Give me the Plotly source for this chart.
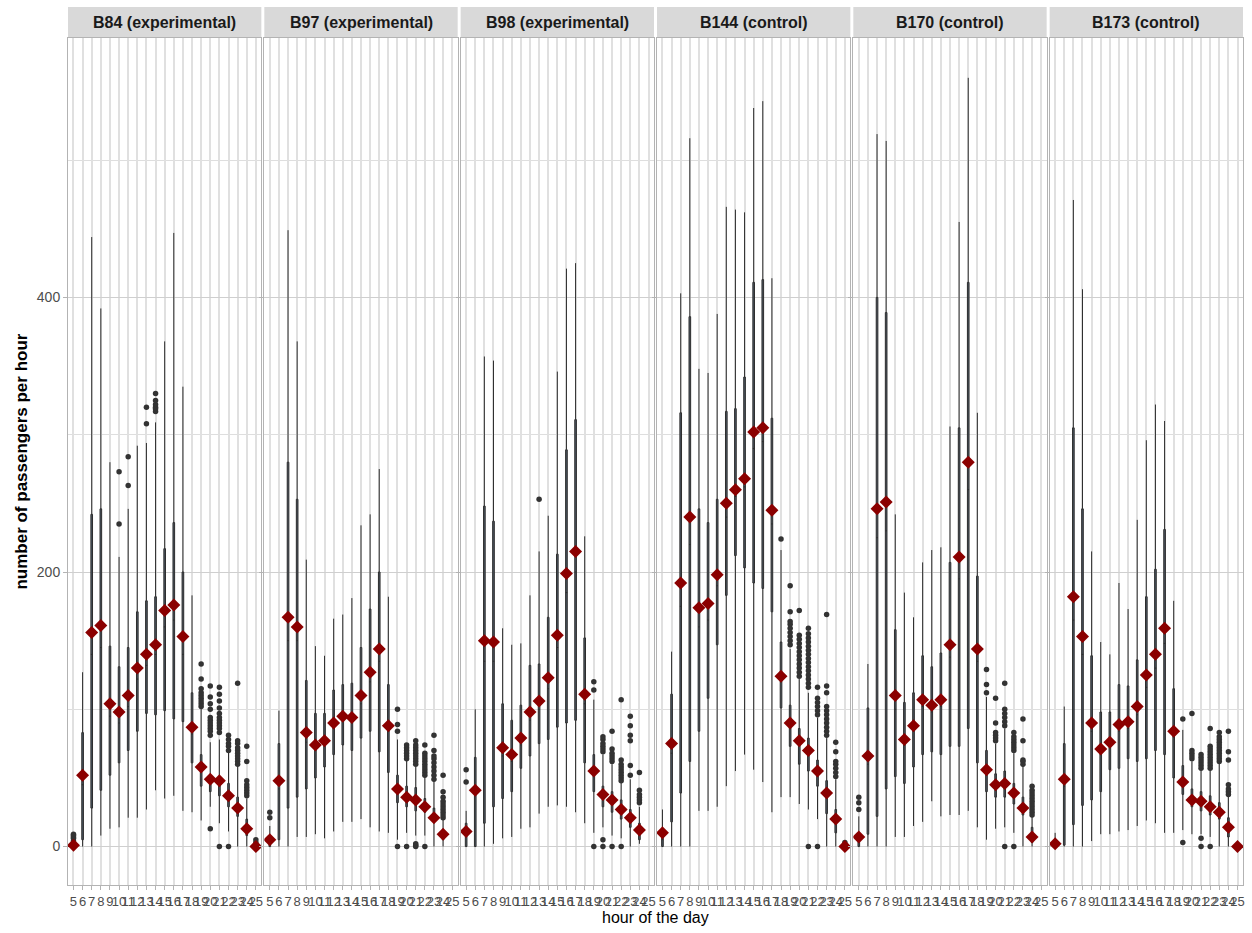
import plotly.graph_objects as go
from plotly.subplots import make_subplots

# Hours of the day shown on each panel
hours = list(range(5, 26))
hour_labels = [str(h) for h in hours]

panel_titles = ["B84 (experimental)", "B97 (experimental)", "B98 (experimental)",
                "B144 (control)", "B170 (control)", "B173 (control)"]

# ---- B84 (experimental) ----
b84_low = [0, 0, 0, 8, 13, 14, 21, 21, 27, 41, 35, 37, 26, 25, 19, 29, 17, 11, 0, 0, 0]
b84_q1 = [0, 5, 28, 41, 52, 61, 70, 84, 97, 96, 99, 93, 91, 61, 44, 40, 37, 29, 22, 8, 0]
b84_med = [0, 45, 140, 145, 95, 90, 102, 122, 132, 140, 160, 165, 140, 82, 55, 46, 44, 35, 27, 12, 0]
b84_q3 = [1, 83, 242, 246, 146, 131, 145, 171, 179, 182, 217, 236, 200, 112, 67, 51, 50, 46, 36, 20, 0]
b84_high = [2, 127, 444, 392, 280, 211, 246, 292, 294, 309, 368, 447, 335, 183, 101, 76, 78, 69, 60, 35, 0]
b84_mean = [1, 52, 156, 161, 104, 98, 110, 130, 140, 147, 172, 176, 153, 87, 58, 49, 48, 37, 28, 13, 0]
b84_out = {5: [4, 6, 7, 8, 9], 10: [235, 273], 11: [263, 284], 13: [308, 320],
           14: [317, 319, 320, 322, 325, 330],
           19: [102, 104, 106, 108, 110, 112, 115, 122, 133],
           20: [13, 81, 84, 86, 88, 90, 92, 94, 100, 104, 109, 117],
           21: [0, 83, 86, 88, 90, 92, 94, 97, 101, 106, 111, 116],
           22: [0, 70, 73, 75, 78, 81],
           23: [60, 62, 64, 66, 68, 70, 72, 75, 77, 119],
           24: [37, 39, 41, 43, 45, 48, 62, 73], 25: [3, 5]}

# ---- B97 (experimental) ----
b97_low = [0, 0, 0, 7, 7, 9, 6, 11, 18, 18, 20, 14, 11, 10, 5, 10, 8, 8, 0, 0, None]
b97_q1 = [0, 5, 28, 36, 42, 50, 58, 67, 74, 70, 79, 84, 69, 54, 32, 29, 26, 25, 18, 5, None]
b97_med = [2, 42, 150, 150, 76, 70, 74, 86, 92, 90, 104, 120, 135, 84, 40, 34, 32, 28, 20, 8, None]
b97_q3 = [6, 75, 280, 253, 121, 97, 97, 114, 118, 119, 145, 173, 200, 118, 52, 44, 43, 35, 28, 12, None]
b97_high = [15, 99, 449, 368, 209, 146, 139, 166, 169, 181, 234, 242, 275, 182, 78, 63, 58, 51, 48, 20, None]
b97_mean = [5, 48, 167, 160, 83, 74, 77, 90, 95, 94, 110, 127, 144, 88, 42, 36, 34, 29, 21, 9, None]
b97_out = {5: [21, 25], 19: [0, 84, 89, 100],
           20: [0, 64, 66, 68, 70, 72, 74],
           21: [0, 1, 2, 60, 62, 64, 66, 68, 70, 72, 74, 77],
           22: [0, 52, 54, 56, 58, 60, 62, 64, 66, 68, 74],
           23: [49, 52, 55, 58, 61, 64, 66, 70, 81],
           24: [21, 23, 25, 27, 29, 31, 33, 36, 40, 52]}

# ---- B98 (experimental) ----
b98_low = [0, 0, 0, 2, 6, 7, 13, 14, 24, 29, 30, 29, 25, 17, 10, 14, 8, 6, 0, 2, None]
b98_q1 = [0, 0, 17, 29, 35, 40, 57, 66, 75, 78, 87, 90, 92, 61, 40, 29, 25, 20, 14, 5, None]
b98_med = [8, 38, 135, 135, 66, 62, 74, 92, 100, 115, 145, 185, 200, 104, 52, 36, 32, 26, 20, 10, None]
b98_q3 = [17, 65, 248, 237, 104, 92, 103, 132, 133, 167, 213, 289, 311, 152, 67, 44, 40, 34, 27, 17, None]
b98_high = [26, 100, 357, 354, 159, 147, 148, 183, 215, 241, 346, 421, 425, 226, 107, 67, 60, 48, 49, 29, None]
b98_mean = [11, 41, 150, 149, 72, 67, 79, 98, 106, 123, 154, 199, 215, 111, 55, 38, 34, 27, 21, 12, None]
b98_out = {5: [47, 56], 13: [253], 19: [0, 114, 120],
           20: [0, 5, 69, 71, 73, 75, 78, 80],
           21: [0, 62, 64, 66, 68, 71, 84],
           22: [0, 48, 50, 52, 54, 56, 58, 60, 63, 107],
           23: [52, 59, 77, 81, 88, 95],
           24: [32, 34, 36, 38, 41, 54]}

# ---- B144 (control) ----
b144_low = [0, 0, 0, 0, 26, 26, 29, 44, 55, 67, 56, 47, 25, 36, 36, 31, 27, 20, 0, 0, 0]
b144_q1 = [0, 18, 39, 62, 84, 108, 147, 183, 212, 203, 192, 188, 171, 101, 73, 60, 55, 44, 24, 10, 0]
b144_med = [5, 68, 175, 220, 160, 165, 190, 240, 255, 262, 290, 295, 235, 120, 86, 74, 67, 52, 36, 18, 0]
b144_q3 = [12, 111, 316, 386, 246, 236, 253, 317, 319, 342, 411, 413, 312, 149, 103, 86, 79, 63, 48, 27, 0]
b144_high = [27, 142, 403, 516, 348, 345, 388, 466, 464, 462, 538, 543, 414, 216, 144, 122, 112, 94, 79, 49, 0]
b144_mean = [10, 75, 192, 240, 174, 177, 198, 250, 260, 268, 302, 305, 245, 124, 90, 77, 70, 55, 39, 20, 0]
b144_out = {18: [224],
            19: [147, 150, 153, 156, 159, 162, 164, 171, 190],
            20: [124, 127, 130, 133, 136, 139, 142, 145, 148, 151, 154, 172],
            21: [0, 116, 119, 122, 125, 128, 131, 134, 137, 140, 143, 146, 149, 152, 155, 159],
            22: [0, 96, 99, 102, 105, 108, 116],
            23: [81, 84, 87, 90, 93, 96, 99, 102, 112, 117, 169],
            24: [51, 54, 57, 60, 62, 69, 76], 25: [3]}

# ---- B170 (control) ----
b170_low = [0, 0, 0, 0, 7, 7, 15, 18, 33, 22, 23, 23, 26, 14, 5, 13, 14, 10, 0, 0, None]
b170_q1 = [0, 9, 22, 42, 51, 46, 58, 67, 69, 67, 73, 73, 86, 61, 40, 36, 36, 31, 23, 3, None]
b170_med = [3, 60, 225, 230, 100, 74, 84, 102, 98, 102, 138, 195, 260, 135, 53, 43, 44, 37, 26, 6, None]
b170_q3 = [10, 101, 400, 389, 158, 105, 112, 139, 131, 141, 207, 305, 411, 197, 70, 53, 55, 46, 36, 14, None]
b170_high = [22, 133, 519, 514, 242, 185, 167, 207, 216, 218, 306, 455, 560, 316, 109, 75, 86, 68, 59, 22, None]
b170_mean = [7, 66, 246, 251, 110, 78, 88, 107, 103, 107, 147, 211, 280, 144, 56, 45, 46, 39, 28, 7, None]
b170_out = {5: [27, 32, 36], 19: [112, 118, 129],
            20: [77, 79, 81, 83, 90, 108],
            21: [0, 88, 91, 94, 97, 100, 119],
            22: [0, 70, 72, 74, 76, 78, 80, 83],
            23: [60, 62, 63, 77, 93],
            24: [23, 25, 27, 29, 31, 33, 35, 37, 39, 41, 44]}

# ---- B173 (control) ----
b173_low = [0, 0, 0, 0, 4, 9, 9, 11, 12, 15, 19, 17, 10, 10, 12, 9, 9, 7, 0, 0, 0]
b173_q1 = [0, 1, 16, 30, 34, 40, 56, 57, 64, 62, 64, 70, 67, 50, 38, 29, 26, 23, 20, 7, 0]
b173_med = [1, 44, 165, 140, 84, 67, 72, 84, 86, 96, 116, 130, 148, 80, 45, 33, 32, 28, 24, 12, 0]
b173_q3 = [3, 75, 305, 246, 139, 98, 98, 118, 117, 136, 182, 202, 231, 115, 59, 42, 40, 37, 32, 21, 0]
b173_high = [10, 102, 471, 406, 215, 149, 140, 192, 173, 238, 296, 322, 310, 179, 85, 62, 56, 56, 61, 37, 0]
b173_mean = [2, 49, 182, 153, 90, 71, 76, 89, 91, 102, 125, 140, 159, 84, 47, 34, 33, 29, 25, 14, 0]
b173_out = {19: [3, 93], 20: [64, 66, 68, 70, 97],
            21: [0, 6, 57, 59, 61, 63, 65, 67],
            22: [0, 57, 59, 61, 63, 65, 67, 69, 71, 73, 86],
            23: [62, 64, 66, 68, 70, 72, 74, 76, 78, 80, 83],
            24: [38, 40, 42, 45, 63, 69, 84]}

panels = [
    (b84_low, b84_q1, b84_med, b84_q3, b84_high, b84_mean, b84_out),
    (b97_low, b97_q1, b97_med, b97_q3, b97_high, b97_mean, b97_out),
    (b98_low, b98_q1, b98_med, b98_q3, b98_high, b98_mean, b98_out),
    (b144_low, b144_q1, b144_med, b144_q3, b144_high, b144_mean, b144_out),
    (b170_low, b170_q1, b170_med, b170_q3, b170_high, b170_mean, b170_out),
    (b173_low, b173_q1, b173_med, b173_q3, b173_high, b173_mean, b173_out),
]

FONT = "Liberation Sans, Arial, sans-serif"
W, H = 1252, 933
ML, MR, MT, MB = 68, 7, 38, 48
plot_w = W - ML - MR
plot_h = H - MT - MB

fig = make_subplots(rows=1, cols=6, shared_yaxes=True,
                    horizontal_spacing=3 / plot_w)

for i, (low, q1, med, q3, high, mean, out) in enumerate(panels):
    col = i + 1
    keep = [k for k, v in enumerate(mean) if v is not None]
    xs = [hours[k] for k in keep]
    fig.add_trace(go.Box(
        x=xs,
        lowerfence=[low[k] for k in keep],
        q1=[q1[k] for k in keep],
        median=[med[k] for k in keep],
        q3=[q3[k] for k in keep],
        upperfence=[high[k] for k in keep],
        width=0.18, whiskerwidth=0,
        fillcolor="#4b5662",
        line=dict(color="#2e2e2e", width=1),
        boxpoints=False, hoverinfo="skip", showlegend=False,
    ), row=1, col=col)

    ox, oy = [], []
    for h, vals in out.items():
        for v in vals:
            ox.append(h)
            oy.append(v)
    fig.add_trace(go.Scatter(
        x=ox, y=oy, mode="markers",
        marker=dict(color="#333333", size=5.5, line=dict(width=0)),
        showlegend=False, hoverinfo="skip",
    ), row=1, col=col)

    fig.add_trace(go.Scatter(
        x=xs, y=[mean[k] for k in keep], mode="markers",
        marker=dict(symbol="diamond", color="#8b0000", size=10, line=dict(width=0)),
        showlegend=False, hoverinfo="skip",
    ), row=1, col=col)

    fig.update_xaxes(
        range=[4.4, 25.6], tickmode="array", tickvals=hours, ticktext=hour_labels,
        tickangle=0, ticks="outside", ticklen=4, tickcolor="#b3b3b3",
        tickfont=dict(family=FONT, size=13, color="#4d4d4d"),
        showgrid=True, gridcolor="#e0e0e0", gridwidth=1.6,
        showline=True, mirror=True, linecolor="#b3b3b3", linewidth=1,
        zeroline=False, row=1, col=col,
    )

    # facet strip
    xd = "x domain" if col == 1 else f"x{col} domain"
    fig.add_shape(type="rect", xref=xd, yref="paper",
                  x0=0, x1=1, y0=1.001, y1=1 + 31 / plot_h,
                  fillcolor="#d9d9d9", line=dict(width=0), layer="below")
    fig.add_annotation(xref=xd, yref="paper", x=0.5, y=1 + 15.5 / plot_h,
                       text=f"<b>{panel_titles[i]}</b>", showarrow=False,
                       font=dict(family=FONT, size=16, color="#1a1a1a"),
                       xanchor="center", yanchor="middle")

fig.update_yaxes(
    range=[-28, 589], tickmode="array", tickvals=[0, 200, 400],
    ticks="outside", ticklen=4, tickcolor="#b3b3b3",
    tickfont=dict(family=FONT, size=14, color="#4d4d4d"),
    showgrid=True, gridcolor="#cfcfcf", gridwidth=1,
    minor=dict(tickvals=[100, 300, 500], showgrid=True, gridcolor="#dedede", gridwidth=1, ticks=""),
    showline=True, mirror=True, linecolor="#b3b3b3", linewidth=1,
    zeroline=False,
)

fig.add_annotation(xref="paper", yref="paper", x=-47 / plot_w, y=0.5,
                   text="<b>number of passengers per hour</b>", textangle=-90,
                   showarrow=False, xanchor="center", yanchor="middle",
                   font=dict(family=FONT, size=17, color="#000000"))
fig.add_annotation(xref="paper", yref="paper", x=0.5, y=-33 / plot_h,
                   text="hour of the day", showarrow=False,
                   xanchor="center", yanchor="middle",
                   font=dict(family=FONT, size=16, color="#000000"))

fig.update_layout(
    width=W, height=H,
    margin=dict(l=ML, r=MR, t=MT, b=MB),
    plot_bgcolor="white", paper_bgcolor="white",
    boxmode="overlay",
    font=dict(family=FONT),
)

fig.write_html("out.html")
